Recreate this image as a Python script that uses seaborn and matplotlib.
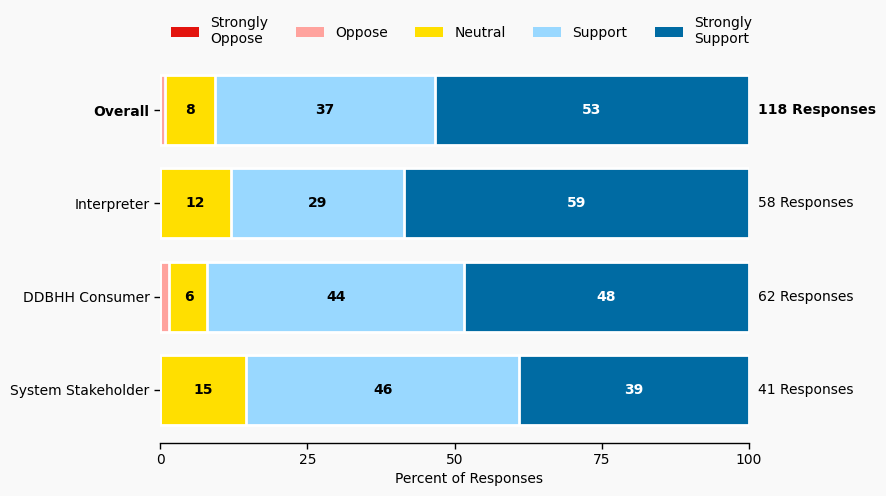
import matplotlib
matplotlib.use("Agg")
import matplotlib.pyplot as plt
import seaborn as sns
import pandas as pd
import numpy as np

groups = ["Overall", "Interpreter", "DDBHH Consumer", "System Stakeholder"]
responses = [118, 58, 62, 41]
levels = ["Strongly\nOppose", "Oppose", "Neutral", "Support", "Strongly\nSupport"]
colors = ["#e3140e", "#ffa39e", "#ffdf00", "#99d8ff", "#006ba3"]
strongly_oppose = [0.0, 0.0, 0.0, 0.0]
oppose = [0.85, 0.0, 1.61, 0.0]
neutral = [8.47, 12.07, 6.45, 14.63]
support = [37.29, 29.31, 43.55, 46.34]
strongly_support = [53.39, 58.62, 48.39, 39.03]

series = [strongly_oppose, oppose, neutral, support, strongly_support]
vals = np.array(series)
cum = np.cumsum(vals, axis=0)

sns.set_theme(style="white")
plt.rcParams["font.family"] = ["DejaVu Sans"]
plt.rcParams["text.color"] = "black"
plt.rcParams["axes.labelcolor"] = "black"
plt.rcParams["xtick.color"] = "black"
plt.rcParams["ytick.color"] = "black"
bg = "#f9f9f9"
fig = plt.figure(figsize=(8.86, 4.96), dpi=100, facecolor=bg)
ax = fig.add_axes([0.1806, 0.1069, 0.6648, 0.778])
ax.set_facecolor(bg)

# overdraw cumulative bars, largest first
for i in range(len(levels) - 1, -1, -1):
    df = pd.DataFrame({"group": groups, "value": cum[i]})
    sns.barplot(data=df, x="value", y="group", orient="h", color=colors[i],
                width=0.75, edgecolor="white", linewidth=2, ax=ax,
                saturation=1, label=levels[i])

# value labels
for i in range(len(levels)):
    for j, g in enumerate(groups):
        v = vals[i, j]
        if v >= 3:
            x = cum[i, j] - v / 2
            tc = "white" if i == 4 else "black"
            ax.text(x, j, f"{v:.0f}", ha="center", va="center",
                    fontsize=10, fontweight="bold", color=tc)

for j, n in enumerate(responses):
    ax.text(101.5, j, f"{n} Responses", ha="left", va="center", fontsize=10,
            fontweight="bold" if j == 0 else "normal", color="black")

ax.set_xlim(0, 100)
ax.set_ylim(3.57, -0.57)
ax.set_xticks([0, 25, 50, 75, 100])
ax.set_xlabel("Percent of Responses", fontsize=10, color="black")
ax.xaxis.set_label_coords(0.5246, -0.075)
ax.set_ylabel("")
ax.tick_params(axis="both", which="both", length=4, width=1, colors="black",
               labelsize=10, left=True, bottom=True)
for lbl in ax.get_yticklabels():
    if lbl.get_text() == "Overall":
        lbl.set_fontweight("bold")
for s in ["top", "right", "left"]:
    ax.spines[s].set_visible(False)
ax.spines["bottom"].set_color("black")
ax.spines["bottom"].set_linewidth(1)

handles, labels = ax.get_legend_handles_labels()
order = [labels.index(l) for l in levels]
leg = ax.legend([handles[k] for k in order], [labels[k] for k in order],
                loc="center", bbox_to_anchor=(0.512, 1.067), ncol=5,
                frameon=False, fontsize=10)
for h in leg.legend_handles:
    h.set_edgecolor("none")
    h.set_linewidth(0)
for t in leg.get_texts():
    t.set_color("black")

fig.savefig("out.png", dpi=100, facecolor=bg)
